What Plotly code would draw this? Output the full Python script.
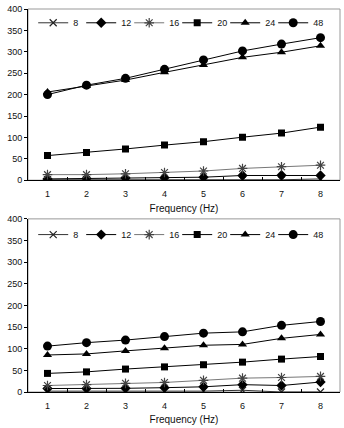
import plotly.graph_objects as go

freq = [1, 2, 3, 4, 5, 6, 7, 8]
series_names = ["8", "12", "16", "20", "24", "48"]

top_8 = [1, 1, 1, 1, 1, 1, 1, 3]
top_12 = [3, 4, 5, 6, 7, 11, 11.5, 11]
top_16 = [13, 13, 15, 18, 21.5, 27.5, 31.5, 35]
top_20 = [57.5, 64.5, 73, 82, 90, 100.5, 110, 124]
top_24 = [206, 220, 234, 252, 269, 287, 299, 314]
top_48 = [200, 222, 238, 259, 281, 302, 318, 333]

bot_8 = [2, 2, 2, 2, 2, 4, 0, 0]
bot_12 = [8, 8, 8.5, 10, 12, 17, 15, 23]
bot_16 = [15, 17, 20, 22, 27, 32, 33.5, 36]
bot_20 = [43, 46.5, 53, 58, 63, 69, 76, 82]
bot_24 = [85.5, 88, 95, 101, 108, 110, 124, 133]
bot_48 = [106, 114, 120, 128, 136, 139, 154, 163]

top_data = [top_8, top_12, top_16, top_20, top_24, top_48]
bot_data = [bot_8, bot_12, bot_16, bot_20, bot_24, bot_48]

styles = [
    dict(symbol="x-thin-open", size=7, line=dict(width=1.2, color="#222"), color="#222"),
    dict(symbol="diamond", size=8, color="black"),
    dict(symbol="asterisk-open", size=8, line=dict(width=1.2, color="#444"), color="#444"),
    dict(symbol="square", size=7, color="black"),
    dict(symbol="triangle-up", size=8, color="black"),
    dict(symbol="circle", size=9, color="black"),
]
line_colors = ["#333", "black", "#777", "black", "black", "black"]
entry_widths = [3, 3, 3, 3, 3, 14]

fig = go.Figure()
for data, xa, ya, lg in [
    (top_data, "x", "y", "legend"),
    (bot_data, "x2", "y2", "legend2"),
]:
    for name, vals, st, lc, ew in zip(series_names, data, styles, line_colors, entry_widths):
        fig.add_trace(go.Scatter(
            x=freq, y=vals, name=name, mode="lines+markers",
            line=dict(color=lc, width=1),
            marker=st, xaxis=xa, yaxis=ya, legend=lg, legendwidth=ew,
        ))

font = dict(family="Liberation Sans, Arial, sans-serif", color="#111")
xcommon = dict(
    type="linear", range=[0.5, 8.5], tickvals=freq, ticks="",
    showline=True, linecolor="black", linewidth=1, showgrid=False, zeroline=False,
    tickfont=dict(size=9, **font), ticklabelstandoff=5,
    title=dict(text="Frequency (Hz)", font=dict(size=10, **font), standoff=6),
    minor=dict(tickvals=[1.5, 2.5, 3.5, 4.5, 5.5, 6.5, 7.5], ticks="inside", ticklen=3, tickcolor="black"),
)
ycommon = dict(
    range=[0, 400], dtick=50, showline=True, linecolor="black", linewidth=1,
    showgrid=False, zeroline=False, ticks="outside", ticklen=3, tickcolor="black",
    tickfont=dict(size=9, **font),
)
legcommon = dict(
    orientation="h", xanchor="right", x=0.975, yanchor="middle",
    font=dict(size=9, **font), bgcolor="rgba(0,0,0,0)", itemwidth=30,
    entrywidthmode="pixels",
)

fig.update_layout(
    width=344, height=428,
    margin=dict(l=28, r=4, t=7, b=34),
    paper_bgcolor="white", plot_bgcolor="white",
    showlegend=True,
    xaxis=dict(domain=[0, 1], anchor="y", **xcommon),
    yaxis=dict(domain=[0.553, 1], anchor="x", **ycommon),
    xaxis2=dict(domain=[0, 1], anchor="y2", **xcommon),
    yaxis2=dict(domain=[0, 0.452], anchor="x2", **ycommon),
    legend=dict(y=0.964, **legcommon),
    legend2=dict(y=0.411, **legcommon),
    shapes=[
        dict(type="rect", xref="x domain", yref="y domain", x0=0, x1=1, y0=0, y1=1,
             line=dict(color="#999", width=1), layer="below"),
        dict(type="rect", xref="x2 domain", yref="y2 domain", x0=0, x1=1, y0=0, y1=1,
             line=dict(color="#999", width=1), layer="below"),
    ],
)

fig.write_html("out.html")
